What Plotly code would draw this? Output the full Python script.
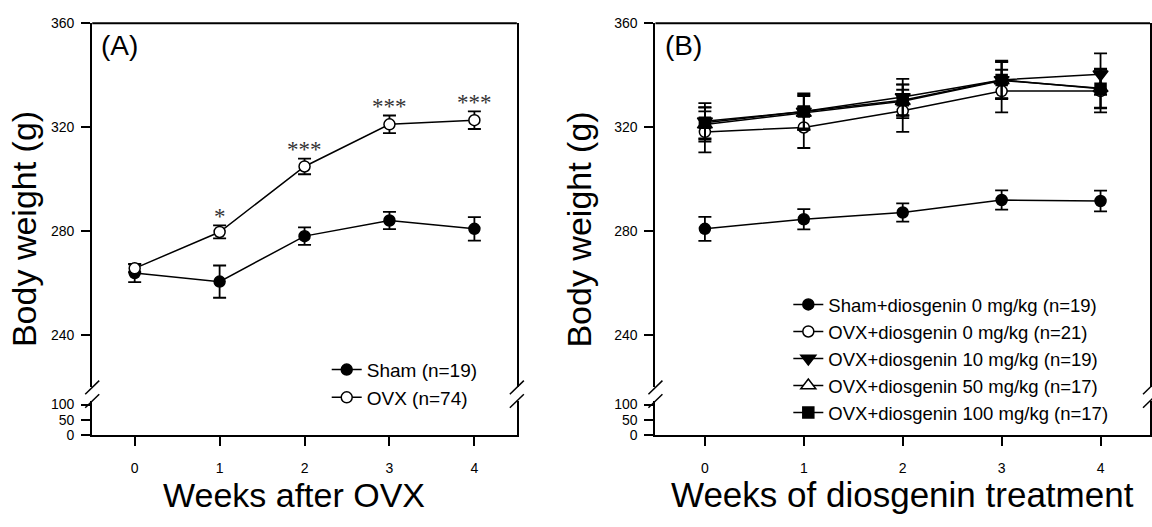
import plotly.graph_objects as go

W, H = 1152, 527


def px(x):
    return x / W


def py(y):
    return 1 - y / H


# ---------------- data ----------------
weeks = [0, 1, 2, 3, 4]
week_labels = ["0", "1", "2", "3", "4"]

# Panel A
sham_a = [263.9, 260.6, 278.1, 284.1, 280.9]
sham_a_sem = [3.5, 6.2, 3.4, 3.3, 4.5]
ovx_a = [265.7, 279.7, 304.9, 321.1, 322.7]
ovx_a_sem = [1.5, 2.5, 3.0, 3.4, 3.4]
sig_a = ["", "*", "***", "***", "***"]

# Panel B
sham_b = [280.9, 284.6, 287.2, 292.0, 291.6]
sham_b_sem = [4.6, 3.9, 3.5, 3.7, 4.0]
ovx0_b = [318.2, 319.9, 326.3, 333.9, 333.9]
ovx0_b_sem = [7.9, 7.9, 8.1, 8.2, 8.2]
ovx10_b = [322.3, 326.0, 331.6, 338.2, 340.4]
ovx10_b_sem = [7.0, 7.0, 7.0, 7.4, 8.0]
ovx50_b = [321.0, 325.5, 330.0, 338.0, 335.0]
ovx50_b_sem = [6.5, 6.5, 6.5, 7.0, 7.5]
ovx100_b = [321.7, 326.0, 330.4, 338.2, 334.8]
ovx100_b_sem = [6.0, 6.5, 6.0, 7.0, 7.5]

upper_ticks = [240, 280, 320, 360]
lower_ticks = [0, 50, 100]

FONT = "Liberation Sans, Arial, sans-serif"

fig = go.Figure()


def add_series(name, y, sem, symbol, fill, xa, ya, legend):
    fig.add_trace(go.Scatter(
        x=weeks, y=y, name=name, mode="lines+markers",
        xaxis=xa, yaxis=ya, legend=legend,
        line=dict(color="black", width=1.5),
        marker=dict(symbol=symbol, size=11 if "circle" in symbol or "square" in symbol else 13,
                    color=fill, line=dict(color="black", width=1.5)),
        error_y=dict(type="data", array=sem, visible=True, color="black",
                     thickness=1.8, width=6.5),
    ))


add_series("Sham (n=19)", sham_a, sham_a_sem, "circle", "black", "x", "y", "legend")
add_series("OVX (n=74)", ovx_a, ovx_a_sem, "circle", "white", "x", "y", "legend")

add_series("Sham+diosgenin 0 mg/kg (n=19)", sham_b, sham_b_sem, "circle", "black", "x2", "y3", "legend2")
add_series("OVX+diosgenin 0 mg/kg (n=21)", ovx0_b, ovx0_b_sem, "circle", "white", "x2", "y3", "legend2")
add_series("OVX+diosgenin 10 mg/kg (n=19)", ovx10_b, ovx10_b_sem, "triangle-down", "black", "x2", "y3", "legend2")
add_series("OVX+diosgenin 50 mg/kg (n=17)", ovx50_b, ovx50_b_sem, "triangle-up", "white", "x2", "y3", "legend2")
add_series("OVX+diosgenin 100 mg/kg (n=17)", ovx100_b, ovx100_b_sem, "square", "black", "x2", "y3", "legend2")

# empty traces so the lower axes exist
fig.add_trace(go.Scatter(x=[], y=[], xaxis="x", yaxis="y2", showlegend=False, hoverinfo="skip"))
fig.add_trace(go.Scatter(x=[], y=[], xaxis="x2", yaxis="y4", showlegend=False, hoverinfo="skip"))

# ---------------- geometry ----------------
ax_left_a, ax_right_a = 92.3, 517.3
ax_left_b, ax_right_b = 656.0, 1151.0
top_px, up_bot_px = 15.7, 391.3
lo_top_px, bottom_px = 405.3, 440.7

up_dom = [py(up_bot_px), py(top_px)]
lo_dom = [py(bottom_px), py(lo_top_px)]
up_range = [360 - (up_bot_px - top_px) / 2.681, 360]
lo_range = [0, (bottom_px - lo_top_px) / 0.317]

tickfont = dict(family=FONT, size=14, color="black")


def xaxis_style(dom, anchor):
    return dict(domain=dom, anchor=anchor, range=[-0.5, 4.5], tickvals=weeks, ticktext=week_labels,
                showline=True, linecolor="black", linewidth=2, ticks="outside", ticklen=9,
                tickwidth=1.5, tickcolor="black", showgrid=False, zeroline=False,
                tickfont=tickfont, ticklabelstandoff=10)


def yaxis_style(dom, rng, tv, anchor):
    return dict(domain=dom, anchor=anchor, range=rng, tickvals=tv,
                showline=True, mirror=True, linecolor="black", linewidth=2, ticks="outside",
                ticklen=9, tickwidth=1.5, tickcolor="black", showgrid=False, zeroline=False,
                tickfont=tickfont, ticklabelstandoff=4)


fig.update_layout(
    width=W, height=H, margin=dict(l=0, r=0, t=0, b=0),
    paper_bgcolor="white", plot_bgcolor="white",
    font=dict(family=FONT, color="black"),
    xaxis=xaxis_style([px(ax_left_a), px(ax_right_a)], "y2"),
    yaxis=yaxis_style(up_dom, up_range, upper_ticks, "x"),
    yaxis2=yaxis_style(lo_dom, lo_range, lower_ticks, "x"),
    xaxis2=xaxis_style([px(ax_left_b), px(ax_right_b)], "y4"),
    yaxis3=yaxis_style(up_dom, up_range, upper_ticks, "x2"),
    yaxis4=yaxis_style(lo_dom, lo_range, lower_ticks, "x2"),
    legend=dict(x=px(327), y=py(353.5), xanchor="left", yanchor="top",
                font=dict(family=FONT, size=19, color="black"), bgcolor="rgba(0,0,0,0)",
                borderwidth=0, itemwidth=30, tracegroupgap=0),
    legend2=dict(x=px(789), y=py(286.6), xanchor="left", yanchor="top",
                 font=dict(family=FONT, size=18.5, color="black"), bgcolor="rgba(0,0,0,0)",
                 borderwidth=0, itemwidth=30, tracegroupgap=0),
)

shapes = []
# top frame lines
for xr, yr in (("x domain", "y domain"), ("x2 domain", "y3 domain")):
    shapes.append(dict(type="line", xref=xr, yref=yr, x0=0, x1=1, y0=1, y1=1,
                       line=dict(color="black", width=2)))
# axis break slashes
for axx in (ax_left_a, ax_right_a, ax_left_b, ax_right_b):
    for yc in (up_bot_px, lo_top_px):
        shapes.append(dict(type="line", xref="paper", yref="paper",
                           x0=px(axx - 7), y0=py(yc + 7), x1=px(axx + 7), y1=py(yc - 7),
                           line=dict(color="black", width=1.5)))
fig.update_layout(shapes=shapes)


def paper_text(text, x, y, size, xanchor="center", angle=0):
    return dict(text=text, x=px(x), y=py(y), xref="paper", yref="paper", xanchor=xanchor,
                yanchor="middle", textangle=angle, showarrow=False,
                font=dict(family=FONT, size=size, color="black"))


ann = [
    paper_text("(A)", 99, 39, 28, "left"),
    paper_text("(B)", 664, 39, 28, "left"),
    paper_text("Body weight (g)", 24, 228, 34, angle=-90),
    paper_text("Body weight (g)", 580, 228, 34, angle=-90),
    paper_text("Weeks after OVX", 294, 502, 34),
    paper_text("Weeks of diosgenin treatment", 903, 502, 35),
]
# significance stars
for w, m, s, t in zip(weeks, ovx_a, ovx_a_sem, sig_a):
    if t:
        ann.append(dict(text=t, x=w, y=m + s, xref="x", yref="y", xanchor="center",
                        yanchor="middle", yshift=9, showarrow=False,
                        font=dict(family="Liberation Serif, Times New Roman, serif", size=23,
                                  color="#333333")))
fig.update_layout(annotations=ann)

fig.write_html("out.html", config={"displayModeBar": False},
               post_script="document.body.style.margin='0';document.body.style.overflow='hidden';")
